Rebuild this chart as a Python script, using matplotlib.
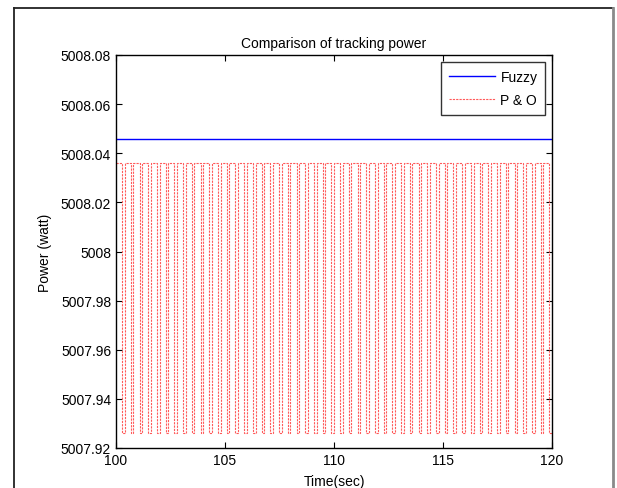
import numpy as np
import matplotlib.pyplot as plt
from matplotlib.lines import Line2D

plt.rcParams["font.family"] = ["Liberation Sans", "DejaVu Sans"]

# ── Data ─────────────────────────────────────────────────────────────
t_start, t_end = 100.0, 120.0
fuzzy_power = 5008.046          # flat fuzzy MPPT output (W)

# one P&O oscillation cycle: (time offset within cycle, power)
po_cycle_t = [0.00, 0.28, 0.28, 0.40]
po_cycle_p = [5008.036, 5008.036, 5007.926, 5007.926]
po_period = 0.40
po_n_cycles = 50

xticks = [100, 105, 110, 115, 120]
yticks = [5007.92, 5007.94, 5007.96, 5007.98, 5008.00,
          5008.02, 5008.04, 5008.06, 5008.08]
ytick_labels = ["5007.92", "5007.94", "5007.96", "5007.98", "5008",
                "5008.02", "5008.04", "5008.06", "5008.08"]

# build P&O trace by repeating the read-off cycle
po_t = np.concatenate([t_start + k * po_period + np.array(po_cycle_t)
                       for k in range(po_n_cycles)])
po_p = np.tile(po_cycle_p, po_n_cycles)

# ── Figure ───────────────────────────────────────────────────────────
W, H = 617, 489
fig = plt.figure(figsize=(W / 100, H / 100), dpi=100, facecolor="white")

# outer frame of the figure window
fig.add_artist(Line2D([14 / W, 14 / W], [0, 1 - 9 / H], transform=fig.transFigure,
                      color="#222222", lw=1.3))
fig.add_artist(Line2D([14 / W, 613 / W], [1 - 9 / H, 1 - 9 / H],
                      transform=fig.transFigure, color="#222222", lw=1.3))
fig.add_artist(Line2D([613 / W, 613 / W], [0, 1 - 9 / H], transform=fig.transFigure,
                      color="#8a8a8a", lw=2.0))

ax = fig.add_axes([116 / W, 1 - 449 / H, (552 - 116) / W, (449 - 56) / H])

ax.plot([t_start, t_end], [fuzzy_power, fuzzy_power], color="blue",
        linewidth=1.0, label="Fuzzy")
ax.plot(po_t, po_p, color="#ff5a5a", linewidth=0.8, linestyle=(0, (2.0, 1.0)),
        label="P & O")

ax.set_xlim(t_start, t_end)
ax.set_ylim(5007.92, 5008.08)
ax.set_xticks(xticks)
ax.set_xticklabels([str(x) for x in xticks])
ax.set_yticks(yticks)
ax.set_yticklabels(ytick_labels)
ax.tick_params(direction="in", length=4, width=0.8, labelsize=10,
               top=True, right=True, colors="black")
for s in ax.spines.values():
    s.set_linewidth(1.0)

ax.set_title("Comparison of tracking power", fontsize=10, pad=6)
ax.set_xlabel("Time(sec)", fontsize=10, labelpad=5)
ax.set_ylabel("Power (watt)", fontsize=10, labelpad=6)

leg = ax.legend(loc="upper right", fontsize=10, frameon=True, fancybox=False,
                borderaxespad=0.5, handlelength=3.3, handletextpad=0.4,
                borderpad=0.55, labelspacing=0.7)
leg.get_frame().set_edgecolor("black")
leg.get_frame().set_linewidth(1.0)

fig.savefig("out.png", dpi=100, facecolor="white")
